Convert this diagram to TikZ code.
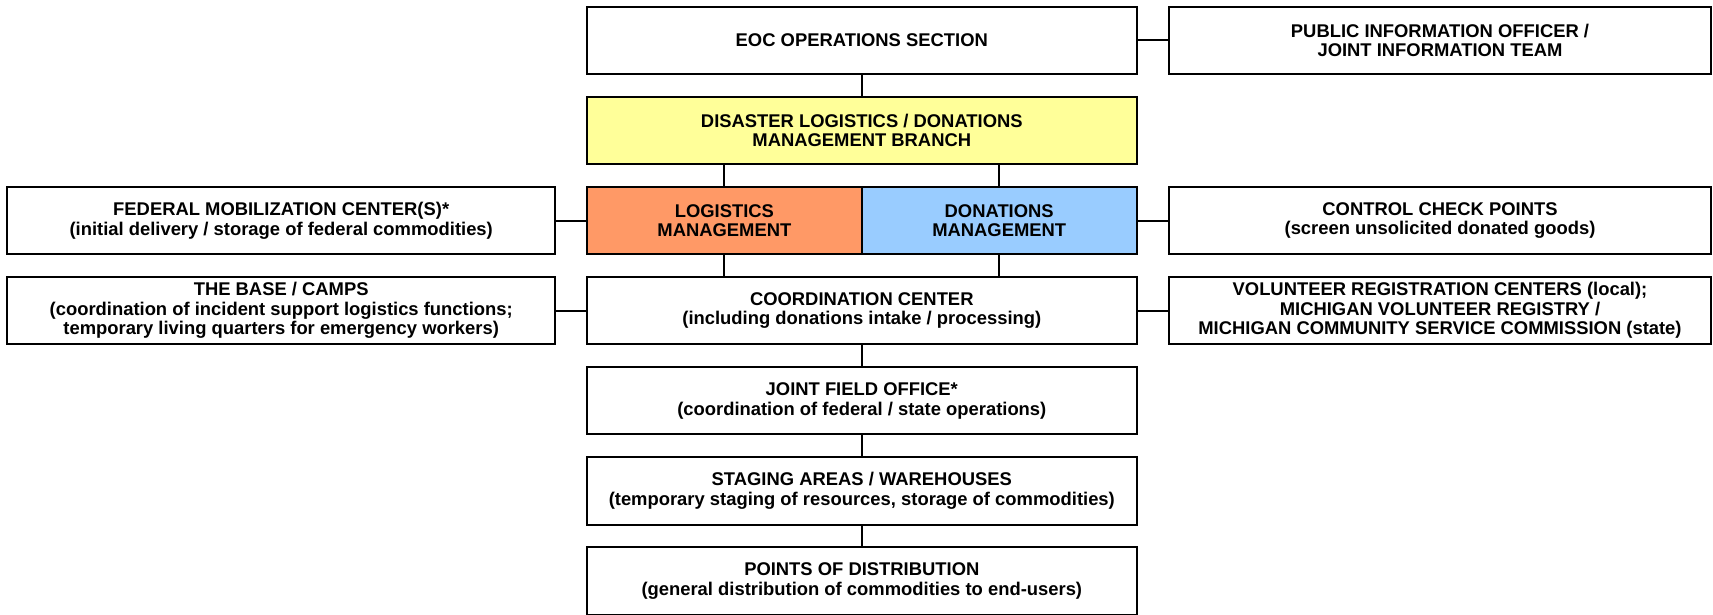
\documentclass[tikz,border=0pt]{standalone}
\usepackage{fontspec}
\setmainfont{Liberation Sans}
\usetikzlibrary{calc}

\definecolor{branchyellow}{HTML}{FFFF99}
\definecolor{logorange}{HTML}{FF9966}
\definecolor{donblue}{HTML}{99CCFF}

\tikzset{
  unit/.style={draw, line width=1pt, align=center, inner sep=0pt,
    minimum height=33.75pt, font=\bfseries\fontsize{9.2}{9.8}\selectfont},
  midbox/.style={unit, minimum width=274.75pt},
  halfbox/.style={unit, minimum width=137.4pt},
  leftbox/.style={unit, minimum width=273.85pt},
  rightbox/.style={unit, minimum width=271pt},
}

\begin{document}
\begin{tikzpicture}[x=0.5pt, y=-0.5pt, line width=1pt]
        \useasboundingbox (0,0) rectangle (1713,615);

        % middle column
        \node[midbox] (eoc) at (861.8, 40.3) {EOC OPERATIONS SECTION};
        \node[midbox, fill=branchyellow] (branch) at (861.8, 130.4)
          {DISASTER LOGISTICS / DONATIONS\\MANAGEMENT BRANCH};
        \node[halfbox, fill=logorange] (log) at (724.4, 220.5)
          {LOGISTICS\\MANAGEMENT};
        \node[halfbox, fill=donblue] (don) at (999.2, 220.5)
          {DONATIONS\\MANAGEMENT};
        \node[midbox] (coord) at (861.8, 310.6)
          {COORDINATION CENTER\\(including donations intake / processing)};
        \node[midbox] (jfo) at (861.8, 400.7)
          {JOINT FIELD OFFICE*\\(coordination of federal / state operations)};
        \node[midbox] (staging) at (861.8, 490.8)
          {STAGING AREAS / WAREHOUSES\\(temporary staging of resources, storage of commodities)};
        \node[midbox] (pod) at (861.8, 580.9)
          {POINTS OF DISTRIBUTION\\(general distribution of commodities to end-users)};

        % left column
        \node[leftbox] (fmc) at (281.2, 220.5)
          {FEDERAL MOBILIZATION CENTER(S)*\\(initial delivery / storage of federal commodities)};
        \node[leftbox] (base) at (281.2, 310.6)
          {THE BASE / CAMPS\\(coordination of incident support logistics functions;\\temporary living quarters for emergency workers)};

        % right column
        \node[rightbox] (pio) at (1440, 40.3)
          {PUBLIC INFORMATION OFFICER /\\JOINT INFORMATION TEAM};
        \node[rightbox] (ccp) at (1440, 220.5)
          {CONTROL CHECK POINTS\\(screen unsolicited donated goods)};
        \node[rightbox] (vrc) at (1440, 310.6)
          {VOLUNTEER REGISTRATION CENTERS (local);\\MICHIGAN VOLUNTEER REGISTRY /\\MICHIGAN COMMUNITY SERVICE COMMISSION (state)};

        % connectors
        \draw (eoc.east) -- (pio.west);
        \draw (eoc.south) -- (branch.north);
        \draw (log.north |- branch.south) -- (log.north);
        \draw (don.north |- branch.south) -- (don.north);
        \draw (log.west) -- (fmc.east);
        \draw (don.east) -- (ccp.west);
        \draw (log.south) -- (log.south |- coord.north);
        \draw (don.south) -- (don.south |- coord.north);
        \draw (coord.west) -- (base.east);
        \draw (coord.east) -- (vrc.west);
        \draw (coord.south) -- (jfo.north);
        \draw (jfo.south) -- (staging.north);
        \draw (staging.south) -- (pod.north);
      \end{tikzpicture}
\end{document}
